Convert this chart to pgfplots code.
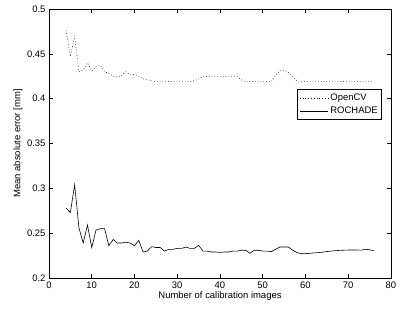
\documentclass[border=0pt]{standalone}
\usepackage{fontspec}
\setmainfont{Liberation Sans}
\usepackage{pgfplots}
\pgfplotsset{compat=1.18}
\begin{document}
\begin{tikzpicture}
\path[use as bounding box] (-49bp,-33bp) rectangle (350bp,278bp);
\begin{axis}[
  scale only axis,
  width=342bp, height=269bp,
  xmin=0, xmax=80, ymin=0.2, ymax=0.5,
  xtick={0,10,...,80},
  ytick={0.2,0.25,0.3,0.35,0.4,0.45,0.5},
  yticklabel style={/pgf/number format/fixed, /pgf/number format/precision=2},
  /pgf/number format/assume math mode=true,
  tick align=inside,
  major tick length=4bp,
  axis line style={line width=0.8pt},
  every tick/.style={black, line width=0.5pt},
  tick label style={font=\fontsize{9.5}{11}\selectfont},
  label style={font=\fontsize{9.5}{11}\selectfont},
  xlabel={Number of calibration images},
  ylabel={Mean absolute error [mm]},
  xlabel style={yshift=3bp},
  ylabel style={yshift=-2bp},
  legend style={at={(0.974,0.703)}, anchor=north east, draw=black, line width=0.8pt,
    font=\fontsize{9.5}{11}\selectfont, inner xsep=2pt, inner ysep=2.5pt, row sep=1pt, cells={anchor=west}},
  legend cell align=left,
  legend image code/.code={\draw[#1, line width=0.5pt] (0cm,0cm) -- (1.0cm,0cm);},
]
\addplot[black, dash pattern=on 0.6pt off 2.2pt, line width=0.6pt] coordinates {
(4,0.476)(5,0.447)(6,0.470)(7,0.430)(8,0.432)(9,0.440)(10,0.431)(11,0.436)(12,0.437)
(13,0.430)(14,0.428)(15,0.425)(16,0.424)(17,0.426)(18,0.430)(19,0.427)(20,0.427)
(21,0.425)(22,0.422)(23,0.421)(24,0.420)(25,0.419)(26,0.419)(27,0.419)(28,0.419)
(29,0.419)(30,0.419)(31,0.419)(32,0.419)(33,0.419)(34,0.420)(35,0.422)(36,0.4245)
(37,0.4245)(38,0.4245)(39,0.4245)(40,0.4245)(41,0.4245)(42,0.4245)(43,0.4245)(44,0.4245)
(45,0.421)(46,0.419)(47,0.419)(48,0.419)(49,0.419)(50,0.419)(51,0.419)(52,0.419)
(53,0.426)(54,0.431)(55,0.432)(56,0.429)(57,0.424)(58,0.420)(59,0.419)(60,0.419)
(61,0.419)(62,0.419)(63,0.419)(64,0.419)(65,0.419)(66,0.419)(67,0.419)(68,0.419)
(69,0.419)(70,0.419)(71,0.419)(72,0.419)(73,0.419)(74,0.419)(75,0.419)(76,0.419)
};
\addlegendentry{OpenCV}
\addplot[black, line width=0.6pt] coordinates {
(4,0.278)(5,0.273)(6,0.304)(7,0.256)(8,0.239)(9,0.259)(10,0.234)(11,0.2535)(12,0.255)
(13,0.255)(14,0.236)(15,0.243)(16,0.239)(17,0.239)(18,0.240)(19,0.239)(20,0.236)
(21,0.242)(22,0.229)(23,0.230)(24,0.235)(25,0.234)(26,0.234)(27,0.230)(28,0.232)
(29,0.232)(30,0.233)(31,0.233)(32,0.2345)(33,0.233)(34,0.233)(35,0.2365)(36,0.230)
(37,0.230)(38,0.229)(39,0.229)(40,0.2285)(41,0.229)(42,0.229)(43,0.230)(44,0.230)
(45,0.231)(46,0.231)(47,0.2276)(48,0.231)(49,0.231)(50,0.230)(51,0.230)(52,0.2295)
(53,0.232)(54,0.2346)(55,0.2346)(56,0.2346)(57,0.231)(58,0.2285)(59,0.227)(60,0.2272)
(61,0.2275)(62,0.228)(63,0.2283)(64,0.2288)(65,0.2295)(66,0.230)(67,0.2305)(68,0.2308)
(69,0.231)(70,0.2312)(71,0.2312)(72,0.2312)(73,0.231)(74,0.232)(75,0.2315)(76,0.2305)
};
\addlegendentry{ROCHADE}
\end{axis}
\end{tikzpicture}
\end{document}
